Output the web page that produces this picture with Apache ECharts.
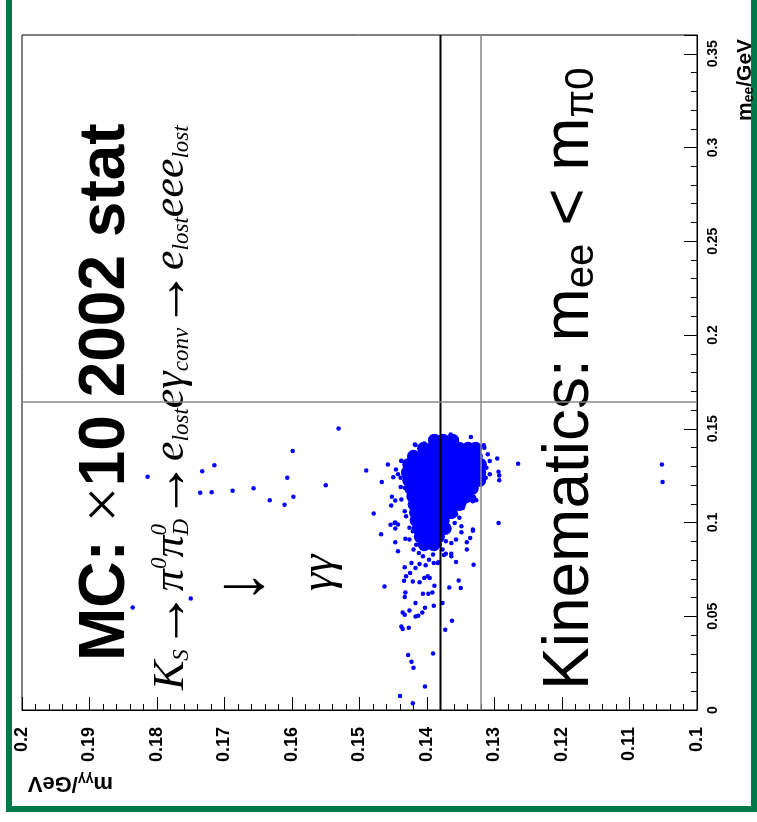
<!DOCTYPE html>
<html>
<head>
<meta charset="utf-8">
<script src="https://cdn.jsdelivr.net/npm/echarts@6/dist/echarts.min.js"></script>
<style>
  html, body { margin: 0; padding: 0; background: #fff; }
  #main { width: 757px; height: 822px; }
</style>
</head>
<body>
<div id="main"></div>
<script>
// m_gg on the (inverted) x axis, m_ee on the right-hand y axis; picture is turned a quarter turn
const mggRange = [0.1, 0.2];
const meeRange = [0, 0.36];

// cut lines
const mggCuts = [0.1380, 0.1320];
const meeCut = 0.1643;

// dense core of the blob, one row per m_ee value
const coreRows = [
  [0.1439, [0.1389, 0.1376, 0.1362]],
  [0.1396, [0.1405, 0.1392, 0.1379, 0.1365, 0.1352, 0.1339, 0.1328]],
  [0.1353, [0.1420, 0.1407, 0.1393, 0.1380, 0.1367, 0.1353, 0.1340, 0.1327]],
  [0.1310, [0.1427, 0.1414, 0.1401, 0.1387, 0.1374, 0.1361, 0.1347, 0.1334, 0.1321]],
  [0.1267, [0.1429, 0.1416, 0.1402, 0.1389, 0.1376, 0.1362, 0.1349, 0.1336, 0.1322]],
  [0.1225, [0.1427, 0.1414, 0.1401, 0.1387, 0.1374, 0.1361, 0.1347, 0.1334, 0.1322]],
  [0.1182, [0.1424, 0.1411, 0.1398, 0.1384, 0.1371, 0.1358, 0.1344, 0.1333]],
  [0.1139, [0.1421, 0.1408, 0.1395, 0.1381, 0.1368, 0.1355, 0.1341]],
  [0.1096, [0.1419, 0.1405, 0.1392, 0.1379, 0.1365, 0.1352]],
  [0.1053, [0.1417, 0.1404, 0.1390, 0.1376, 0.1364]],
  [0.1011, [0.1416, 0.1402, 0.1389, 0.1376]],
  [0.0968, [0.1413, 0.1399, 0.1386, 0.1373]],
  [0.0925, [0.1410, 0.1396, 0.1383]],
  [0.0882, [0.1404, 0.1390]]
];

// single events around the core  [m_gg, m_ee]
const fringe = [
  [0.1490,0.1278],[0.1458,0.1309],[0.1467,0.1216],[0.1479,0.1048],[0.1452,0.1137],[0.1453,0.1091],
  [0.1447,0.1118],[0.1468,0.0937],[0.1454,0.0988],[0.1447,0.0968],[0.1447,0.1000],[0.1447,0.0895],
  [0.1443,0.0847],[0.1463,0.0659],[0.1432,0.0627],[0.1433,0.0603],[0.1417,0.0571],[0.1436,0.0520],
  [0.1433,0.0508],[0.1426,0.0531],[0.1417,0.0499],[0.1413,0.0503],[0.1407,0.0520],[0.1403,0.0545],
  [0.1390,0.0556],[0.1377,0.0571],[0.1438,0.0445],[0.1436,0.0432],[0.1427,0.0439],[0.1373,0.0428],
  [0.1363,0.0476],[0.1428,0.0293],[0.1423,0.0257],[0.1420,0.0226],[0.1391,0.0301],[0.1403,0.0125],
  [0.1440,0.0075],[0.1421,0.0036],[0.1406,0.0620],[0.1398,0.0620],[0.1392,0.0627],[0.1389,0.0663],
  [0.1367,0.0654],[0.1353,0.0691],[0.1350,0.0651],[0.1434,0.0690],[0.1421,0.0686],[0.1411,0.0681],
  [0.1399,0.0713],[0.1431,0.0713],[0.1425,0.0731],[0.1433,0.0761],[0.1417,0.0758],[0.1411,0.0779],
  [0.1402,0.0772],[0.1357,0.0790],[0.1331,0.0775],[0.1341,0.0856],[0.1336,0.0918],[0.1332,0.0956],
  [0.1341,0.0895],[0.1294,0.0998],[0.1265,0.1314],[0.1296,0.1341],[0.1293,0.1251],[0.1293,0.1225],
  [0.1316,0.1412],[0.1335,0.1456],[0.1365,0.1469],[0.1418,0.1416],[0.1404,0.1421],[0.1390,0.1453],
  [0.1438,0.1330],[0.1446,0.1283],[0.1450,0.1241],[0.1439,0.1189],[0.1327,0.1119],[0.1327,0.1216],
  [0.1331,0.1137],[0.1364,0.0833],[0.1372,0.0833],[0.1383,0.0788],[0.1375,0.0827],[0.1432,0.0913],
  [0.1426,0.0909],[0.1423,0.0784],[0.1404,0.0704],[0.1396,0.0704],[0.1390,0.0784],[0.1384,0.0784],
  [0.1364,0.0820],[0.1349,0.0948],[0.1357,0.0909],[0.1372,0.0900],[0.1364,0.0891],[0.1381,0.0882],
  [0.1377,0.0856],[0.1391,0.0829],[0.1397,0.0802],[0.1406,0.0820],[0.1412,0.0838],[0.1420,0.0856],
  [0.1416,0.0882],[0.1417,0.1413],[0.1421,0.1373],[0.1443,0.1257],[0.1438,0.1328],[0.1439,0.1239],
  [0.1438,0.1123],[0.1433,0.1186],[0.1448,0.0998],[0.1443,0.0989],[0.1433,0.1060],[0.1431,0.1034],
  [0.1315,0.1399],[0.1310,0.1364],[0.1307,0.1328],[0.1312,0.1292],[0.1316,0.1257],[0.1313,0.1239],
  [0.1307,0.1257],[0.1294,0.1271],[0.1322,0.1301],[0.1320,0.1275],[0.1327,0.1186],[0.1330,0.1132],
  [0.1332,0.1114],[0.1339,0.1167],[0.1344,0.1105],[0.1347,0.1078],[0.1364,0.1060],[0.1357,0.1043],
  [0.1352,0.1025],[0.1359,0.0998],[0.1349,0.0980],[0.1332,0.0963],[0.1426,0.0972],[0.1421,0.0954],
  [0.1406,0.0957]
];

// isolated events far from the peak
const outliers = [
  [0.1531,0.1501],[0.1599,0.1381],[0.1715,0.1305],[0.1733,0.1273],[0.1814,0.1244],[0.1607,0.1239],
  [0.1550,0.1199],[0.1736,0.1159],[0.1719,0.1162],[0.1688,0.1170],[0.1657,0.1183],[0.1633,0.1119],
  [0.1611,0.1095],[0.1598,0.1137],[0.1836,0.0547],[0.1750,0.0595],[0.1052,0.1310],[0.1051,0.1216]
];

const coreData = [];
coreRows.forEach(r => {
  r[1].forEach(m => coreData.push([m, r[0]]));
});

const SANS = 'Liberation Sans';
const SERIF = 'Liberation Serif';
const BLUE = '#0000ff';

function cutLine(name, data, color, width) {
  return {
    name: name, type: 'line', data: data, symbol: 'none', silent: true, z: 5,
    lineStyle: { color: color, width: width }
  };
}

let chart = echarts.init(document.getElementById('main'), null, { renderer: 'canvas' });

let option = {
  animation: false,
  backgroundColor: '#fff',
  grid: {
    left: 22, top: 35, width: 675, height: 675,
    show: true, borderColor: '#000', borderWidth: 1,
    outerBoundsMode: 'none'
  },
  xAxis: {
    type: 'value',
    min: mggRange[0], max: mggRange[1], interval: 0.01,
    inverse: true,
    position: 'bottom',
    splitLine: { show: false },
    axisLine: { show: true, onZero: false, lineStyle: { color: '#000', width: 1 } },
    axisTick: { show: true, inside: true, length: 13, lineStyle: { color: '#000', width: 1 } },
    minorTick: { show: true, splitNumber: 5, length: 6, lineStyle: { color: '#000', width: 1 } },
    axisLabel: {
      rotate: 90, margin: 17, color: '#000', align: 'right', verticalAlign: 'middle',
      fontFamily: SANS, fontWeight: 'bold', fontSize: 18
    }
  },
  yAxis: {
    type: 'value',
    min: meeRange[0], max: meeRange[1], interval: 0.05,
    position: 'right',
    splitLine: { show: false },
    axisLine: { show: true, onZero: false, lineStyle: { color: '#000', width: 1 } },
    axisTick: { show: true, inside: true, length: 13, lineStyle: { color: '#000', width: 1 } },
    minorTick: { show: true, splitNumber: 5, length: 6, lineStyle: { color: '#000', width: 1 } },
    axisLabel: {
      rotate: 90, margin: 9, color: '#000', showMaxLabel: false,
      fontFamily: SANS, fontWeight: 'bold', fontSize: 14
    }
  },
  series: [
    {
      name: 'core',
      type: 'scatter',
      data: coreData,
      symbol: 'circle',
      symbolSize: 13,
      itemStyle: { color: BLUE, opacity: 1 },
      silent: true
    },
    {
      name: 'events',
      type: 'scatter',
      data: fringe.concat(outliers),
      symbol: 'circle',
      symbolSize: 4.5,
      itemStyle: { color: BLUE, opacity: 1 },
      silent: true
    },
    cutLine('cut1', [[mggCuts[0], meeRange[0]], [mggCuts[0], meeRange[1]]], '#000', 2),
    cutLine('cut2', [[mggCuts[1], meeRange[0]], [mggCuts[1], meeRange[1]]], '#888', 1.5),
    cutLine('cut3', [[mggRange[0], meeCut], [mggRange[1], meeCut]], '#888', 1.5)
  ],
  graphic: [
    // green page frame
    { type: 'rect', shape: { x: 6, y: 0, width: 6, height: 812 }, style: { fill: '#00794a' }, silent: true },
    { type: 'rect', shape: { x: 6, y: 806, width: 751, height: 6 }, style: { fill: '#00794a' }, silent: true },
    { type: 'rect', shape: { x: 751, y: 0, width: 6, height: 812 }, style: { fill: '#00794a' }, silent: true },
    // x axis title, upside down
    {
      type: 'text', x: 113, y: 783, rotation: Math.PI,
      style: {
        text: '{m|m}{s|γγ}{m|/GeV}', fill: '#000', align: 'left', verticalAlign: 'middle',
        rich: {
          m: { fontFamily: SANS, fontWeight: 'bold', fontSize: 22, lineHeight: 22 },
          s: { fontFamily: SANS, fontWeight: 'bold', fontSize: 14, lineHeight: 10, verticalAlign: 'bottom' }
        }
      }
    },
    // y axis title
    {
      type: 'text', x: 745, y: 121, rotation: Math.PI / 2,
      style: {
        text: '{m|m}{s|ee}{m|/GeV}', fill: '#000', align: 'left', verticalAlign: 'middle',
        rich: {
          m: { fontFamily: SANS, fontWeight: 'bold', fontSize: 21, lineHeight: 22 },
          s: { fontFamily: SANS, fontWeight: 'bold', fontSize: 14, lineHeight: 10, verticalAlign: 'bottom' }
        }
      }
    },
    // big title
    {
      type: 'text', x: 106, y: 661, rotation: Math.PI / 2,
      style: {
        text: '{b|MC: }{t|×}{b|10 2002 stat}', fill: '#000', align: 'left', verticalAlign: 'middle',
        rich: {
          b: { fontFamily: SANS, fontWeight: 'bold', fontSize: 64 },
          t: { fontFamily: SERIF, fontSize: 64 }
        }
      }
    },
    // decay chain
    {
      type: 'text', x: 171, y: 690, rotation: Math.PI / 2,
      style: {
        text: '{i|K}{sub|S}{a|→}{i|π}{sup|0}{i|π}{supz|0}{sub|D}{a|→}{i|e}{sub|lost}{i|eγ}{sub|conv}{a|→}{i|e}{sub|lost}{i|eee}{sub|lost}',
        fill: '#000', align: 'left', verticalAlign: 'middle',
        rich: {
          i: { fontFamily: SERIF, fontStyle: 'italic', fontSize: 44, lineHeight: 45 },
          a: { fontFamily: SERIF, fontSize: 58, lineHeight: 45 },
          sub: { fontFamily: SERIF, fontStyle: 'italic', fontSize: 23, lineHeight: 15, verticalAlign: 'bottom' },
          sup: { fontFamily: SERIF, fontStyle: 'italic', fontSize: 23, lineHeight: 15, verticalAlign: 'top' },
          supz: { fontFamily: SERIF, fontStyle: 'italic', fontSize: 23, lineHeight: 15, verticalAlign: 'top', width: 0 }
        }
      }
    },
    // pi0 -> gamma gamma
    {
      type: 'text', x: 244, y: 580,
      style: { text: '→', fill: '#000', align: 'center', verticalAlign: 'middle', fontFamily: SERIF, fontSize: 68 }
    },
    {
      type: 'text', x: 320, y: 591, rotation: Math.PI / 2,
      style: { text: 'γγ', fill: '#000', align: 'left', verticalAlign: 'middle', fontFamily: SERIF, fontStyle: 'italic', fontSize: 46 }
    },
    // kinematics
    {
      type: 'text', x: 570, y: 690, rotation: Math.PI / 2,
      style: {
        text: '{m|Kinematics: m}{s|ee}{m| < m}{s|π0}', fill: '#000', align: 'left', verticalAlign: 'middle',
        rich: {
          m: { fontFamily: SANS, fontSize: 64, lineHeight: 64 },
          s: { fontFamily: SANS, fontSize: 40, lineHeight: 23, verticalAlign: 'bottom' }
        }
      }
    }
  ]
};

chart.setOption(option);
</script>
</body>
</html>
